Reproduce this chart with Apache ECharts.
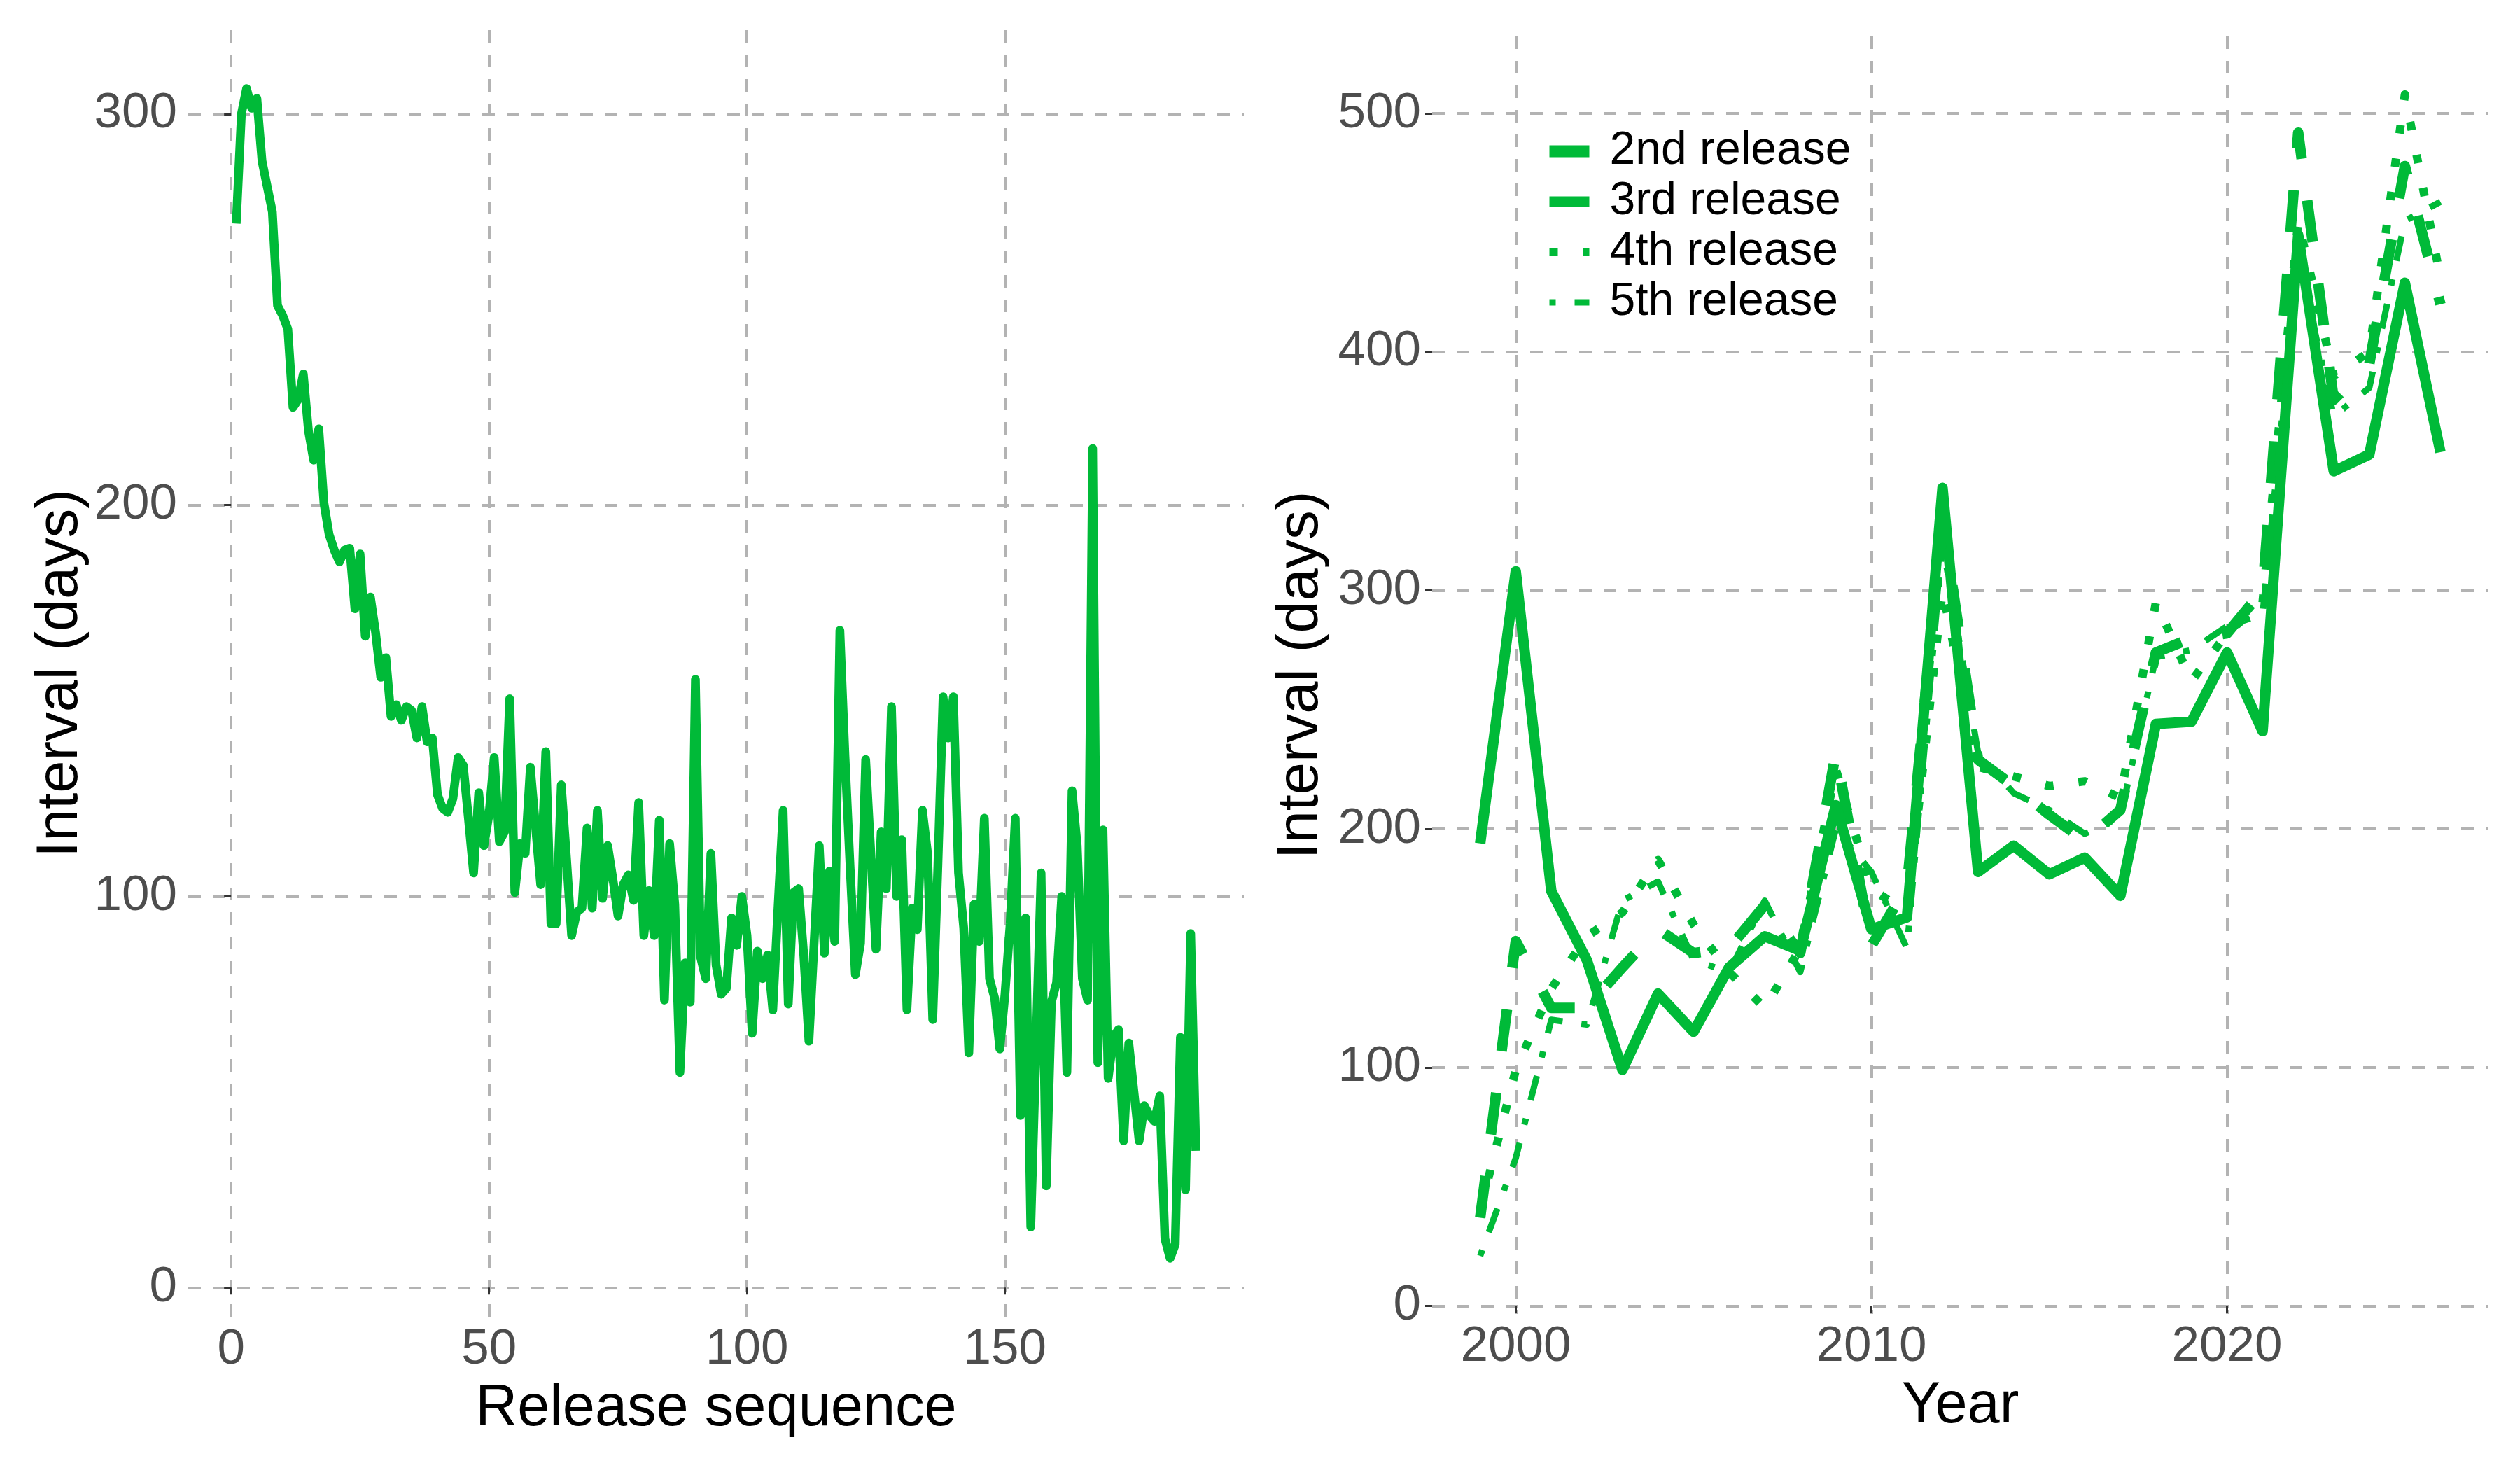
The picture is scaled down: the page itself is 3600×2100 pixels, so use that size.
<!DOCTYPE html>
<html>
<head>
<meta charset="utf-8">
<style>
  html, body { margin: 0; padding: 0; background: #ffffff; }
  #chart { width: 3600px; height: 2100px; }
</style>
<script src="https://cdn.jsdelivr.net/npm/echarts@6/dist/echarts.min.js"></script>
</head>
<body>
<div id="chart"></div>
<script>
// left panel: interval (days) for each release in sequence (1..187)
const intervals = [
  272, 300, 306.5, 301.5, 304, 288, 281.5, 275, 251, 248.5,
  245, 225, 227, 233.5, 219, 211.5, 219.5, 200.5, 192.5, 188.5,
  185.5, 188.5, 189, 173.5, 187.5, 166.5, 176.5, 167.5, 156, 161,
  146, 149, 145, 148.5, 147.5, 140.5, 148.5, 139.5, 140.5, 126,
  122.5, 121.5, 125, 135.5, 133.5, 120, 106, 126.5, 113, 121,
  135.5, 114, 116.5, 150.5, 101, 113.5, 111, 133, 118, 103,
  137, 93, 93, 128.5, 110, 90, 96, 97, 117.5, 97,
  122, 99.5, 113, 104.5, 95, 103, 105.5, 99, 124, 90,
  101.5, 90, 119.5, 73.5, 113.5, 98, 55, 83, 73, 155.5,
  84.5, 79, 111, 82.5, 75, 76.5, 94.5, 87.5, 100, 90,
  65, 86, 79, 85, 71, 97, 122, 72.5, 101, 102,
  85, 63, 88, 113, 85.5, 106.5, 88.5, 168, 135.5, 107,
  80, 88, 135, 111, 86.5, 116.5, 102, 148.5, 100, 114.5,
  71, 97, 91.5, 122, 111, 68.5, 108, 151, 140.5, 151,
  106, 92, 60, 98, 88.5, 120, 79, 74, 61, 75,
  93, 120, 44, 94.5, 15.5, 61, 106, 26, 73, 78,
  100, 55, 127, 113, 79, 73.5, 214.5, 57.5, 117, 53.5,
  64, 66, 37.5, 62.5, 50, 37.5, 46.5, 44, 42.5, 49,
  12.5, 7.5, 11, 64, 25, 90.5, 35
];

// right panel: interval (days) by year for the n-th release
const years = [1999, 2000, 2001, 2002, 2003, 2004, 2005, 2006, 2007, 2008,
  2009, 2010, 2011, 2012, 2013, 2014, 2015, 2016, 2017, 2018,
  2019, 2020, 2021, 2022, 2023, 2024, 2025, 2026];
const release2 = [37, 153, 125, 125, 142, 158, 148, 150, 168, 148,
  232, 151, 176, 330, 229, 218, 206, 195, 208, 274,
  280, 282, 300, 492, 380, 395, 478, 420];
const release3 = [194, 308, 174, 145, 99, 131, 115, 142, 155, 149,
  210, 158, 163, 343, 182, 193, 181, 188, 172, 244,
  245, 274, 241, 449, 350, 357, 429, 358];
const release4 = [40, 99, 133, 155, 165, 187, 160, 140, 125, 150,
  225, 175, 165, 300, 226, 222, 218, 220, 213, 295,
  262, 282, 295, 455, 390, 400, 508, 431];
const release5 = [21, 62, 120, 118, 170, 178, 145, 140, 170, 140,
  200, 182, 150, 320, 232, 215, 208, 198, 205, 272,
  275, 285, 290, 440, 373, 385, 455, 463];
const releaseNames = ['2nd release', '3rd release', '4th release', '5th release'];

// tick labels
const seqTicks = [0, 50, 100, 150];
const intervalTicks = [0, 100, 200, 300];
const yearTicks = [2000, 2010, 2020];
const yearIntervalTicks = [0, 100, 200, 300, 400, 500];

const green = '#00BA38';
const font = 'Liberation Sans, Arial, Helvetica, sans-serif';

// ggplot-like 5% padding on each side of the data range
const padMin = e => e.min - (e.max - e.min) * 0.05;
const padMax = e => e.max + (e.max - e.min) * 0.05;

const grid = { color: '#b3b3b3', width: 4, type: [18, 17] };
const tickLabel = { color: '#4d4d4d', fontSize: 71, fontFamily: font };
const titleStyle = { color: '#000000', fontSize: 83, fontFamily: font };

function axis(ticks, extra) {
  return Object.assign({
    type: 'value',
    min: padMin,
    max: padMax,
    axisLine: { show: false },
    axisTick: { show: true, length: 10, customValues: ticks, lineStyle: { color: '#333333', width: 3 } },
    splitLine: { show: true, lineStyle: grid },
    nameLocation: 'middle',
    nameTextStyle: titleStyle
  }, extra);
}

function labels(ticks, margin) {
  return Object.assign({ customValues: ticks, margin: margin, formatter: v => String(v) }, tickLabel);
}

// line look per release: width and dash pattern
const styles = [
  { width: 15, type: [60, 60], key: 17 },
  { width: 15, type: 'solid', key: 15 },
  { width: 12, type: [12, 36], key: 12 },
  { width: 9, type: [9, 27, 36, 27], key: 9 }
];
const rightData = [release2, release3, release4, release5];

const chart = echarts.init(document.getElementById('chart'), null, { renderer: 'canvas' });

chart.setOption({
  backgroundColor: '#ffffff',
  animation: false,
  grid: [
    { left: 269, right: 1823, top: 43, bottom: 219 },
    { left: 2046, right: 45, top: 52, bottom: 223 }
  ],
  xAxis: [
    axis(seqTicks, { gridIndex: 0, name: 'Release sequence', nameGap: 91, axisLabel: labels(seqTicks, 12) }),
    axis(yearTicks, { gridIndex: 1, name: 'Year', nameGap: 91, axisLabel: labels(yearTicks, 12) })
  ],
  yAxis: [
    axis(intervalTicks, { gridIndex: 0, name: 'Interval (days)', nameGap: 140, axisLabel: labels(intervalTicks, 16) }),
    axis(yearIntervalTicks, { gridIndex: 1, name: 'Interval (days)', nameGap: 145, axisLabel: labels(yearIntervalTicks, 16) })
  ],
  legend: {
    orient: 'vertical',
    left: 2200,
    top: 178,
    itemWidth: 57,
    itemHeight: 20,
    itemGap: 6,
    itemStyle: { opacity: 0 },
    data: releaseNames.map((name, k) => ({
      name: name,
      itemStyle: { opacity: 0 },
      lineStyle: { color: green, width: styles[k].key, type: k === 0 ? 'solid' : styles[k].type }
    })),
    textStyle: { color: '#000000', fontSize: 66, fontFamily: font, lineHeight: 66, padding: [0, 0, 0, 24] }
  },
  series: [
    {
      type: 'line',
      xAxisIndex: 0,
      yAxisIndex: 0,
      data: intervals.map((v, i) => [i + 1, v]),
      symbol: 'none',
      lineStyle: { color: green, width: 12.5, join: 'round' }
    }
  ].concat(rightData.map((vals, k) => ({
    type: 'line',
    name: releaseNames[k],
    xAxisIndex: 1,
    yAxisIndex: 1,
    data: years.map((y, i) => [y, vals[i]]),
    symbol: 'none',
    color: green,
    lineStyle: { color: green, width: styles[k].width, type: styles[k].type, join: 'round' }
  })))
});
</script>
</body>
</html>
